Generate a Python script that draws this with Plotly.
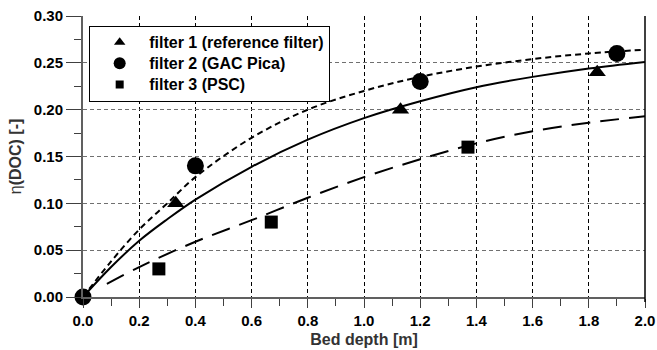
import plotly.graph_objects as go

# ---- measured data ----
f1_x = [0.33, 1.13, 1.83]
f1_y = [0.10, 0.20, 0.24]
f2_x = [0.0, 0.40, 1.20, 1.90]
f2_y = [0.0, 0.14, 0.23, 0.26]
f3_x = [0.27, 0.67, 1.37]
f3_y = [0.03, 0.08, 0.16]

# ---- fitted curves ----
fit1_x = [0.0, 0.1, 0.2, 0.3, 0.4, 0.6, 0.8, 1.0, 1.2, 1.4, 1.6, 1.8, 2.0]
fit1_y = [0.0, 0.032, 0.060, 0.083, 0.104, 0.139, 0.168, 0.191, 0.209, 0.224, 0.235, 0.244, 0.251]
fit2_x = [0.0, 0.1, 0.2, 0.3, 0.4, 0.6, 0.8, 1.0, 1.2, 1.4, 1.6, 1.8, 2.0]
fit2_y = [0.0, 0.038, 0.072, 0.100, 0.128, 0.170, 0.200, 0.220, 0.235, 0.246, 0.254, 0.260, 0.264]
fit3_x = [0.085, 0.2, 0.4, 0.6, 0.8, 1.0, 1.2, 1.4, 1.6, 1.8, 2.0]
fit3_y = [0.014, 0.032, 0.059, 0.082, 0.106, 0.128, 0.147, 0.164, 0.177, 0.186, 0.193]

legend_names = ["filter 1 (reference filter)", "filter 2 (GAC Pica)", "filter 3 (PSC)"]

x_ticks = [0.0, 0.2, 0.4, 0.6, 0.8, 1.0, 1.2, 1.4, 1.6, 1.8, 2.0]
y_ticks = [0.00, 0.05, 0.10, 0.15, 0.20, 0.25, 0.30]

FONT = "Liberation Sans, Arial, sans-serif"

fig = go.Figure()

fig.add_trace(go.Scatter(x=fit1_x, y=fit1_y, mode="lines", line=dict(color="black", width=2, shape="spline"),
                         showlegend=False, hoverinfo="skip"))
fig.add_trace(go.Scatter(x=fit2_x, y=fit2_y, mode="lines",
                         line=dict(color="black", width=2, dash="6px,4px", shape="spline"),
                         showlegend=False, hoverinfo="skip"))
fig.add_trace(go.Scatter(x=fit3_x, y=fit3_y, mode="lines",
                         line=dict(color="black", width=2, dash="19px,10px", shape="spline"),
                         showlegend=False, hoverinfo="skip"))

fig.add_trace(go.Scatter(x=f1_x, y=f1_y, mode="markers", cliponaxis=False,
                         marker=dict(symbol="triangle-up", size=15, color="black"), showlegend=False))
fig.add_trace(go.Scatter(x=f2_x, y=f2_y, mode="markers", cliponaxis=False,
                         marker=dict(symbol="circle", size=17, color="black"), showlegend=False))
fig.add_trace(go.Scatter(x=f3_x, y=f3_y, mode="markers", cliponaxis=False,
                         marker=dict(symbol="square", size=13, color="black"), showlegend=False))

# legend entries (smaller symbols as in the original legend)
for name, sym, sz in zip(legend_names, ["triangle-up", "circle", "square"], [10, 12, 8]):
    fig.add_trace(go.Scatter(x=[None], y=[None], mode="markers",
                             name=f"<span style='font-size:16px'>{name}</span>",
                             marker=dict(symbol=sym, size=sz, color="black")))

fig.update_layout(
    width=657, height=350,
    margin=dict(l=83, r=12, t=16, b=53),
    plot_bgcolor="white", paper_bgcolor="white",
    font=dict(family=FONT, size=15, color="black", weight="bold"),
    legend=dict(x=0.011, y=0.966, xanchor="left", yanchor="top",
                bgcolor="white", bordercolor="black", borderwidth=1,
                font=dict(family=FONT, size=14, color="black", weight="bold"),
                itemwidth=49, tracegroupgap=0),
    xaxis=dict(range=[0, 2.0], tickvals=x_ticks, ticktext=[f"{v:.1f}" for v in x_ticks],
               automargin=False,
               showline=True, linecolor="#606060", linewidth=2,
               ticks="outside", ticklen=9, tickwidth=1, tickcolor="#404040",
               minor=dict(dtick=0.1, ticks="outside", ticklen=7, tickcolor="#404040", showgrid=False),
               showgrid=True, gridcolor="black", griddash="4px,3px", gridwidth=1,
               zeroline=False,
               title=dict(text="Bed depth [m]", standoff=6,
                          font=dict(family=FONT, size=16, color="#333333", weight="bold")),
               tickfont=dict(family=FONT, size=15, color="black", weight="bold")),
    yaxis=dict(range=[0, 0.30], tickvals=y_ticks, ticktext=[f"{v:.2f}" for v in y_ticks],
               automargin=False,
               showline=True, linecolor="#606060", linewidth=2,
               ticks="outside", ticklen=15, tickwidth=1, tickcolor="#404040",
               minor=dict(dtick=0.025, ticks="outside", ticklen=7, tickcolor="#404040", showgrid=False),
               showgrid=True, gridcolor="#707070", griddash="4px,3px", gridwidth=1,
               zeroline=False,
               title=dict(text="η<b>(DOC) [-]</b>", standoff=8,
                          font=dict(family=FONT, size=16, color="#333333", weight="normal")),
               tickfont=dict(family=FONT, size=15, color="black", weight="bold")),
    shapes=[dict(type="line", xref="paper", yref="paper", x0=1, x1=1, y0=-0.018, y1=1,
                 line=dict(color="black", width=1.5))],
)

fig.write_html("out.html", config={"displayModeBar": False},
               post_script="document.body.style.margin='0';document.body.style.padding='0';")
